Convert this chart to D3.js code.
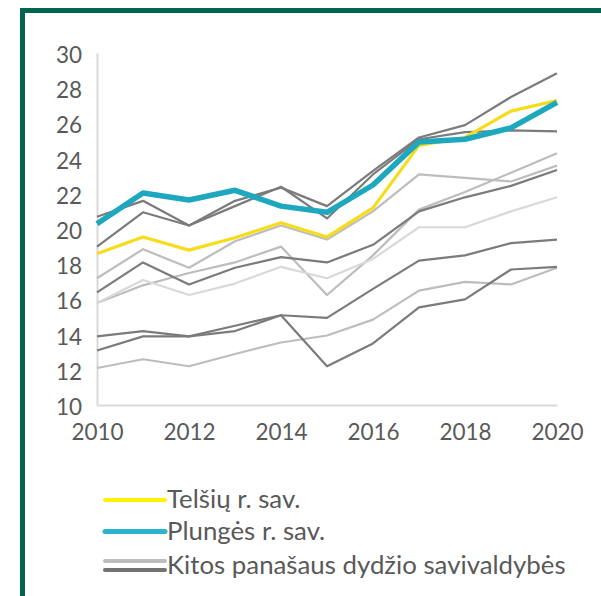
<!DOCTYPE html>
<html><head><meta charset="utf-8">
<script src="https://cdn.jsdelivr.net/npm/d3@7"></script>
<style>html,body{margin:0;padding:0;background:#fff;}svg{display:block;}</style>
</head><body>
<script>
const years = [2010,2011,2012,2013,2014,2015,2016,2017,2018,2019,2020];
const yTicks = [10,12,14,16,18,20,22,24,26,28,30];
const xTicks = [2010,2012,2014,2016,2018,2020];
const telsiai = [18.6,19.55,18.8,19.5,20.35,19.55,21.2,24.75,25.2,26.7,27.3];
const plunge  = [20.3,22.05,21.65,22.2,21.3,20.95,22.5,24.95,25.1,25.75,27.2];
const otherNames = ["g1","g2","g3","g4","g5","g6","g7","g8","g9"];
const otherTone  = ["dark","dark","light","dark","light","lighter","dark","dark","light"];
const g1 = [20.7,21.6,20.2,21.3,22.4,20.6,23.1,25.1,25.5,25.6,25.55];
const g2 = [19.0,20.95,20.2,21.6,22.35,21.3,23.3,25.2,25.9,27.5,28.85];
const g3 = [17.2,18.85,17.8,19.3,20.2,19.4,21.0,23.1,22.9,22.7,23.6];
const g4 = [16.4,18.1,16.85,17.8,18.4,18.1,19.1,21.0,21.8,22.45,23.35];
const g5 = [15.8,16.8,17.5,18.1,19.0,16.25,18.5,21.1,22.1,23.2,24.3];
const g6 = [15.8,17.1,16.25,16.9,17.85,17.2,18.3,20.1,20.1,21.0,21.8];
const g7 = [13.9,14.2,13.9,14.2,15.1,14.95,16.6,18.2,18.5,19.2,19.4];
const g8 = [13.1,13.9,13.9,14.5,15.1,12.2,13.5,15.55,16.0,17.7,17.85];
const g9 = [12.1,12.6,12.2,12.9,13.55,13.95,14.85,16.5,17.0,16.85,17.8];
const others = [g1,g2,g3,g4,g5,g6,g7,g8,g9];
const legendLabels = ["Telšių r. sav.","Plungės r. sav.","Kitos panašaus dydžio savivaldybės"];

const W = 601, H = 596;
const tone = {dark:"#7b7b7b", light:"#bdbdbd", lighter:"#d9d9d9"};
const yellow = "#f7dc1c", cyan = "#1ea8bf";
const font = "Lato, 'Open Sans', sans-serif";

const svg = d3.select("body").append("svg").attr("width",W).attr("height",H);
// frame
svg.append("rect").attr("x",20).attr("y",8).attr("width",W-20).attr("height",5).attr("fill","#00654f");
svg.append("rect").attr("x",20).attr("y",8).attr("width",5).attr("height",H-8).attr("fill","#00654f");

const x = d3.scaleLinear().domain([2010,2020]).range([97,557]);
const y = d3.scaleLinear().domain([10,30]).range([405,53]);

const xAxis = d3.axisBottom(x).tickValues(xTicks).tickFormat(d3.format("d")).tickSize(0).tickPadding(21);
const yAxis = d3.axisLeft(y).tickValues(yTicks).tickSize(0).tickPadding(15);

const gx = svg.append("g").attr("transform","translate(0,405)").call(xAxis);
const gy = svg.append("g").attr("transform","translate(97,0)").call(yAxis);
[gx,gy].forEach(g=>{
  g.select(".domain").attr("stroke","#d9d9d9").attr("stroke-width",2);
  g.selectAll("text").attr("fill","#595959").style("font-family",font).style("font-size","22.5px");
});
gy.selectAll("text").attr("dy","0.42em");
gx.selectAll("text").attr("dy","0.62em");

const line = d3.line().x((d,i)=>x(years[i])).y(d=>y(d));
const order = [2,4,5,8,0,1,3,6,7];
const gl = svg.append("g");
order.forEach(k=>{
  gl.append("path").datum(others[k]).attr("d",line).attr("fill","none")
    .attr("stroke",tone[otherTone[k]]).attr("stroke-width",2.2).attr("stroke-linejoin","round");
});
gl.append("path").datum(telsiai).attr("d",line).attr("fill","none").attr("stroke",yellow).attr("stroke-width",3.2).attr("stroke-linejoin","round");
gl.append("path").datum(plunge).attr("d",line).attr("fill","none").attr("stroke",cyan).attr("stroke-width",5.5).attr("stroke-linejoin","round");

// legend
const lg = svg.append("g");
lg.append("line").attr("x1",105).attr("x2",165).attr("y1",500).attr("y2",500).attr("stroke","#fff200").attr("stroke-width",4).attr("stroke-linecap","round");
lg.append("line").attr("x1",105).attr("x2",165).attr("y1",531.5).attr("y2",531.5).attr("stroke","#2cb4cf").attr("stroke-width",5).attr("stroke-linecap","round");
lg.append("line").attr("x1",105).attr("x2",165).attr("y1",561).attr("y2",561).attr("stroke","#bdbdbd").attr("stroke-width",4).attr("stroke-linecap","round");
lg.append("line").attr("x1",105).attr("x2",165).attr("y1",570).attr("y2",570).attr("stroke","#737373").attr("stroke-width",4).attr("stroke-linecap","round");
const ly = [499,530.5,564.5];
legendLabels.forEach((t,i)=>{
  lg.append("text").attr("x",167).attr("y",ly[i]).attr("dy","0.36em").text(t)
    .attr("fill","#595959").style("font-family",font).style("font-size","25.8px");
});
</script>
</body></html>
